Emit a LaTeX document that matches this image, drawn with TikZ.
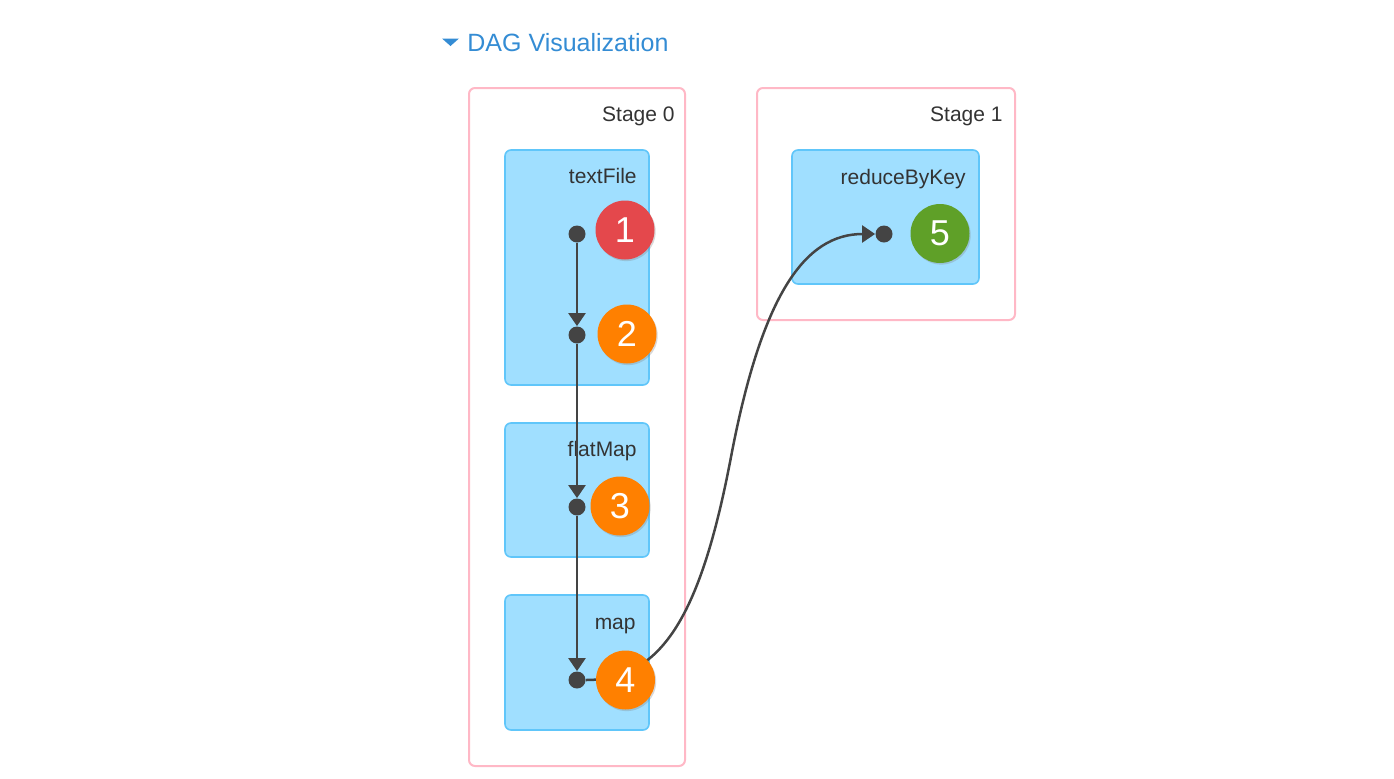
\documentclass[tikz,border=0pt]{standalone}
\usepackage{fontspec}
\setmainfont{Liberation Sans}
\usepackage{tikz}
\usetikzlibrary{arrows.meta, fit, shadows}

\definecolor{stagepink}{RGB}{255,184,198}
\definecolor{rddfill}{RGB}{160,223,255}
\definecolor{rddline}{RGB}{96,198,250}
\definecolor{flowgray}{RGB}{68,68,68}
\definecolor{textgray}{RGB}{51,51,51}
\definecolor{titleblue}{RGB}{52,140,212}
\definecolor{opred}{RGB}{228,72,76}
\definecolor{oporange}{RGB}{255,128,0}
\definecolor{opgreen}{RGB}{95,160,40}

\begin{document}
\begin{tikzpicture}
    [
      x=0.5pt, y=-0.5pt,
      stage/.style={draw=stagepink, line width=1pt, rounded corners=3pt, fill=white, inner sep=0pt},
      rdd/.style={draw=rddline, line width=0.8pt, rounded corners=3pt, fill=rddfill, inner sep=0pt},
      boxlabel/.style={anchor=base east, inner sep=0pt, text=textgray, font=\fontsize{10.5}{12}\selectfont},
      dot/.style={circle, fill=flowgray, inner sep=0pt, minimum size=8.5pt},
      op/.style={circle, inner sep=0pt, minimum size=29.5pt, text=white, font=\fontsize{18}{18}\selectfont,
        drop shadow={shadow xshift=0.6pt, shadow yshift=-0.8pt, opacity=0.3}},
      flow/.style={draw=flowgray, line width=1.25pt, ->},
      >={Triangle[width=8.5pt,length=6.5pt]}
    ]
    \useasboundingbox (0,0) rectangle (1394,778);
    % title
    \fill[titleblue] (442,38.5) -- (459,38.5) -- (450.5,46) -- cycle;
    \node [anchor=base west, inner sep=0pt, text=titleblue, font=\fontsize{12.5}{14}\selectfont] (title) at (467,51) {DAG Visualization};
    % stages
    \node [stage, fit={(469,88) (685,766)}] (s0) {};
    \node [stage, fit={(757,88) (1015,320)}] (s1) {};
    \node [boxlabel] (s0l) at (675,121) {Stage 0};
    \node [boxlabel] (s1l) at (1003,121) {Stage 1};
    % rdd boxes
    \node [rdd, fit={(505,150) (649,385)}] (textfile) {};
    \node [rdd, fit={(505,423) (649,557)}] (flatmap) {};
    \node [rdd, fit={(505,595) (649,730)}] (map) {};
    \node [rdd, fit={(792,150) (979,284)}] (reduce) {};
    \node [boxlabel] (textfilel) at (637,183) {textFile};
    \node [boxlabel] (flatmapl) at (637,456.5) {flatMap};
    \node [boxlabel] (mapl) at (636,629) {map};
    \node [boxlabel] (reducel) at (966,184) {reduceByKey};
    % dots
    \foreach \n/\x/\y in {1/577/234,2/577/335,3/577/507,4/577/680,5/884/234} {
        \node [dot] (d\n) at (\x,\y) {};
    }
    % flow edges
    \draw [flow] (d1) -- (d2);
    \draw [flow] (d2) -- (d3);
    \draw [flow] (d3) -- (d4);
    \draw [flow]
    (d4.east) .. controls (660,680) and (700,620) .. (731,457)
    .. controls (762,294) and (805,234) .. (d5.west);
    % operations
    \foreach \n/\x/\y/\c in {1/625/230/opred,2/627/334/oporange,3/620/506/oporange,4/625.5/680/oporange,5/940/233.5/opgreen} {
        \node [op, fill=\c] (o\n) at (\x,\y) {\n};
    }
\end{tikzpicture}
\end{document}
